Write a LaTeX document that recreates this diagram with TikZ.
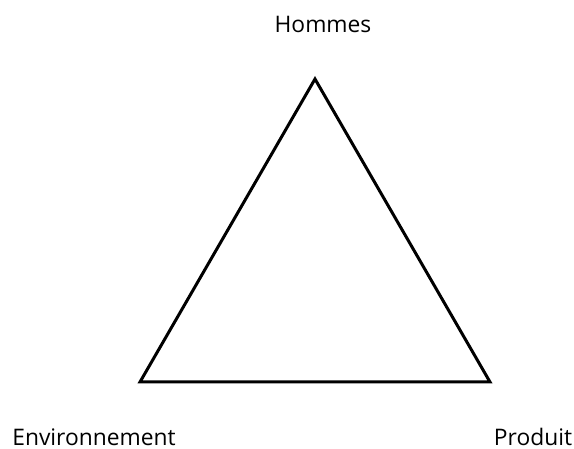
\documentclass[tikz,border=0pt]{standalone}
\usepackage{fontspec}
\setmainfont{Open Sans}
\begin{document}
\begin{tikzpicture}[x=1pt,y=-1pt,
  lbl/.style={font=\fontsize{22.8}{27}\selectfont, inner sep=0pt, anchor=base}]
\useasboundingbox (0,0) rectangle (574,449);
\coordinate (T) at (315,79);
\coordinate (L) at (140,382);
\coordinate (R) at (490,382);
\draw[line width=3pt, line join=miter] (T) -- (L) -- (R) -- cycle;
\node[lbl] (h) at (323,33) {Hommes};
\node[lbl] (e) at (94,446) {Environnement};
\node[lbl] (p) at (533,446) {Produit};
\end{tikzpicture}
\end{document}
